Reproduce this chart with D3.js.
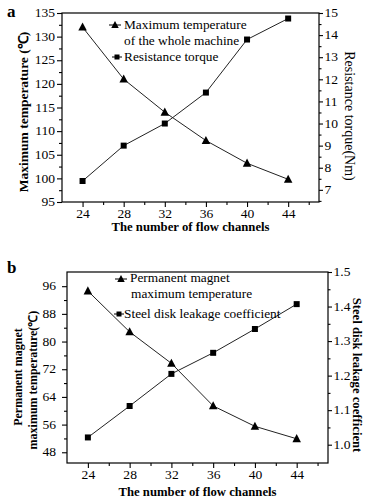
<!DOCTYPE html>
<html><head><meta charset="utf-8">
<script src="https://cdn.jsdelivr.net/npm/d3@7/dist/d3.min.js"></script>
<style>body{margin:0;background:#fff}svg{display:block}text{font-family:"Liberation Serif","Times New Roman",serif;fill:#000}</style>
</head><body><svg id="c" width="373" height="499"></svg>
<script>
const channels = [24, 28, 32, 36, 40, 44];
const xTicks = [24, 28, 32, 36, 40, 44];
// Panel a
const maxTempA = [132, 121, 114, 108, 103.2, 99.8];
const torqueA = [7.4, 9.0, 10.0, 11.4, 13.8, 14.75];
const leftTicksA = [95, 100, 105, 110, 115, 120, 125, 130, 135];
const rightTicksA = [7, 8, 9, 10, 11, 12, 13, 14, 15];
// Panel b
const magnetTempB = [94.6, 82.8, 73.7, 61.4, 55.5, 51.9];
const leakageB = [1.021, 1.112, 1.205, 1.266, 1.335, 1.407];
const leftTicksB = [48, 56, 64, 72, 80, 88, 96];
const rightTicksB = [1.0, 1.1, 1.2, 1.3, 1.4, 1.5];

const svg = d3.select("#c");

function triPath(cx, cy, s) {
  return `M${cx},${cy - s * 0.55}L${cx + s * 0.5},${cy + s * 0.4}L${cx - s * 0.5},${cy + s * 0.4}Z`;
}
function sqPath(cx, cy, s) {
  return `M${cx - s/2},${cy - s/2}h${s}v${s}h${-s}Z`;
}
// horizontally widen glyphs (reference image is slightly stretched)
function stretch(sel, f) {
  sel.each(function () {
    const len = this.getComputedTextLength();
    if (len > 0) d3.select(this).attr("textLength", len * f).attr("lengthAdjust", "spacingAndGlyphs");
  });
}

function panel(cfg) {
  const g = svg.append("g");
  const x = d3.scaleLinear().domain([22, 47]).range([cfg.l, cfg.r]);
  const yL = d3.scaleLinear().domain(cfg.lDom).range([cfg.b, cfg.t]);
  const yR = d3.scaleLinear().domain(cfg.rDom).range([cfg.b, cfg.t]);

  g.append("rect").attr("x", cfg.l).attr("y", cfg.t).attr("width", cfg.r - cfg.l).attr("height", cfg.b - cfg.t)
    .attr("fill", "none").attr("stroke", "#000").attr("stroke-width", 1.2);

  const xa = g.append("g").attr("transform", `translate(0,${cfg.b})`)
    .call(d3.axisBottom(x).tickValues(xTicks).tickSize(5).tickPadding(3).tickFormat(d3.format("d")));
  const xm = g.append("g").attr("transform", `translate(0,${cfg.b})`)
    .call(d3.axisBottom(x).tickValues([26, 30, 34, 38, 42, 46]).tickSize(3).tickFormat(""));
  const la = g.append("g").attr("transform", `translate(${cfg.l},0)`)
    .call(d3.axisLeft(yL).tickValues(cfg.lTicks).tickSize(5).tickPadding(cfg.lPad).tickFormat(d3.format("d")));
  const lm = g.append("g").attr("transform", `translate(${cfg.l},0)`)
    .call(d3.axisLeft(yL).tickValues(cfg.lMinor).tickSize(3).tickFormat(""));
  const ra = g.append("g").attr("transform", `translate(${cfg.r},0)`)
    .call(d3.axisRight(yR).tickValues(cfg.rTicks).tickSize(4).tickPadding(1.5).tickFormat(cfg.rFmt));
  const rm = g.append("g").attr("transform", `translate(${cfg.r},0)`)
    .call(d3.axisRight(yR).tickValues(cfg.rMinor).tickSize(2.5).tickFormat(""));
  [xa, xm, la, lm, ra, rm].forEach(a => {
    a.attr("font-family", null);
    a.select(".domain").remove();
    a.selectAll("line").attr("stroke", "#000").attr("stroke-width", 1.1);
    a.selectAll("text").attr("font-size", 11.5).attr("fill", "#111").call(stretch, 1.18);
  });

  const lineL = d3.line().x((d, i) => x(channels[i])).y(d => yL(d));
  const lineR = d3.line().x((d, i) => x(channels[i])).y(d => yR(d));
  g.append("path").attr("d", lineL(cfg.lData)).attr("fill", "none").attr("stroke", "#222").attr("stroke-width", 1);
  g.append("path").attr("d", lineR(cfg.rData)).attr("fill", "none").attr("stroke", "#222").attr("stroke-width", 1);
  g.selectAll(".tri").data(cfg.lData).enter().append("path")
    .attr("d", (d, i) => triPath(x(channels[i]), yL(d), 8.5)).attr("fill", "#000");
  g.selectAll(".sq").data(cfg.rData).enter().append("path")
    .attr("d", (d, i) => sqPath(x(channels[i]), yR(d), 6)).attr("fill", "#000");

  const lg = cfg.legend;
  g.append("line").attr("x1", lg.mx1 - 6).attr("x2", lg.mx1 + 6).attr("y1", lg.y1).attr("y2", lg.y1).attr("stroke", "#000");
  g.append("path").attr("d", triPath(lg.mx1, lg.y1, 7.5)).attr("fill", "#000");
  g.append("line").attr("x1", lg.mx3 - 5).attr("x2", lg.mx3 + 5).attr("y1", lg.y3).attr("y2", lg.y3).attr("stroke", "#000");
  g.append("path").attr("d", sqPath(lg.mx3, lg.y3, 5)).attr("fill", "#000");
  lg.lines.forEach(t => {
    g.append("text").attr("x", t[0]).attr("y", t[1]).attr("font-size", 11.5).text(t[2]).call(stretch, 1.16);
  });

  g.append("text").attr("x", (cfg.l + cfg.r) / 2).attr("y", cfg.xTitleY).attr("text-anchor", "middle")
    .attr("font-size", 12).attr("font-weight", "bold").text("The number of flow channels").call(stretch, 1.06);
  cfg.lTitles.forEach(t => {
    g.append("text").attr("transform", `translate(${t[0]},${t[1]}) rotate(-90)`).attr("text-anchor", "middle")
      .attr("font-size", t[3]).attr("font-weight", "bold").text(t[2]);
  });
  const rt = cfg.rTitle;
  g.append("text").attr("transform", `translate(${rt[0]},${rt[1]}) rotate(90)`).attr("text-anchor", "middle")
    .attr("font-size", rt[3]).attr("font-weight", rt[4]).text(rt[2]);
  g.append("text").attr("x", 7).attr("y", cfg.labelY).attr("font-size", 17).attr("font-weight", "bold").text(cfg.label);
}

panel({
  l: 62, r: 319, t: 13, b: 202, lPad: 2,
  lDom: [95, 135], rDom: [6.45, 15],
  lTicks: leftTicksA, lMinor: d3.range(97.5, 135, 5),
  rTicks: rightTicksA, rMinor: d3.range(6.5, 15, 1), rFmt: d3.format("d"),
  lData: maxTempA, rData: torqueA,
  legend: { mx1: 115, y1: 25, mx3: 117, y3: 57, lines: [[124, 29, "Maximum temperature"], [124, 45, "of the whole machine"], [124, 61, "Resistance torque"]] },
  xTitleY: 231,
  lTitles: [[28, 112, "Maximum temperature (℃)", 13.5]],
  rTitle: [345, 116, "Resistance torque(Nm)", 14, "normal"],
  label: "a", labelY: 17
});

panel({
  l: 67, r: 328, t: 272, b: 463, lPad: 6,
  lDom: [44.9, 100.1], rDom: [0.947, 1.5],
  lTicks: leftTicksB, lMinor: d3.range(52, 100, 8),
  rTicks: rightTicksB, rMinor: d3.range(1.05, 1.5, 0.1), rFmt: d3.format(".1f"),
  lData: magnetTempB, rData: leakageB,
  legend: { mx1: 121, y1: 279, mx3: 119, y3: 314, lines: [[130, 282, "Permanent magnet"], [131, 298, "maximum temperature"], [124, 318, "Steel disk leakage coefficient"]] },
  xTitleY: 496,
  lTitles: [[22, 377, "Permanent magnet", 12], [37, 380, "maximum temperature(℃)", 12]],
  rTitle: [353, 375, "Steel disk leakage coefficient", 12.7, "bold"],
  label: "b", labelY: 273
});
</script></body></html>
